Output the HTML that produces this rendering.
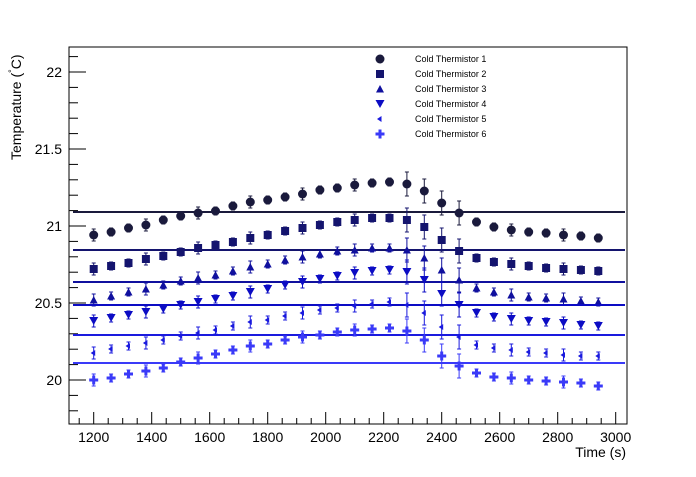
<!DOCTYPE html><html><head><style>body{margin:0;background:#fff}svg{font-family:"Liberation Sans",sans-serif}</style></head><body>
<svg id="s" width="696" height="472" xmlns="http://www.w3.org/2000/svg"></svg>
<script>
const s=document.getElementById('s');let h='';
h+='<rect x="69" y="47" width="558" height="377" fill="none" stroke="#000" stroke-width="1"/>';
const X=v=>93.7+(v-1200)*0.29, Y=v=>380-(v-20)*154;
for(let v=1150;v<=3000;v+=50){const x=X(v),L=(v%200==0)?12:6;h+=`<line x1="${x}" y1="424" x2="${x}" y2="${424-L}" stroke="#000"/>`;if(v%200==0)h+=`<text x="${x}" y="442" font-size="14" text-anchor="middle">${v}</text>`;}
for(let i=0;i<=24;i++){const v=19.8+i*0.1;const y=Y(v);if(y<47||y>424)continue;const maj=Math.abs(v*2-Math.round(v*2))<1e-6;h+=`<line x1="69" y1="${y}" x2="${69+(maj?17:9)}" y2="${y}" stroke="#000"/>`;if(maj){h+=`<text x="62" y="${y+5}" font-size="14" text-anchor="end">${+v.toFixed(1)}</text>`;}}
h+='<text x="626" y="457" font-size="14" text-anchor="end">Time (s)</text>';
h+='<text transform="translate(21,160) rotate(-90)" font-size="14">Temperature (<tspan dy="-6" font-size="9">°</tspan><tspan dy="6">C)</tspan></text>';
const cols=['#1a1a3c','#14146e','#10109e','#0c0cc4','#1a1ade','#3a3af8'];
const lines=[212,250,282,305,335,363];
const D=[[235,232,228,225,220,216,213,211,206,202,200,197,194,190,188,185,183,182,184,191,203,213,222,227,230,232,233,235,236,238],
[269,266,263,259,256,252,248,245,242,238,235,231,228,225,222,220,218,218,220,227,240,251,258,262,264,266,268,269,270,271],
[300,296,292,289,285,281,278,275,271,267,264,260,257,254,251,250,248,248,250,258,270,280,288,292,295,297,298,299,301,302],
[321,318,315,312,309,305,302,299,296,292,289,285,282,279,276,273,271,270,272,280,294,305,313,317,319,321,322,323,325,326],
[353,349,346,343,340,336,333,330,326,322,320,316,313,310,308,306,304,302,305,313,327,337,345,348,350,352,353,355,356,356],
[380,378,374,371,368,362,358,354,350,346,344,340,337,335,332,330,329,328,331,340,356,366,373,377,378,380,381,382,383,386]];
function mk(k,x,y,c){switch(k){case 0:return `<circle cx="${x}" cy="${y}" r="4.5" fill="${c}"/>`;case 1:return `<rect x="${x-4}" y="${y-4}" width="8" height="8" fill="${c}"/>`;case 2:return `<polygon points="${x-4},${y+3.5} ${x+4},${y+3.5} ${x},${y-4}" fill="${c}"/>`;case 3:return `<polygon points="${x-4.5},${y-4} ${x+4.5},${y-4} ${x},${y+4}" fill="${c}"/>`;case 4:return `<polygon points="${x-3},${y} ${x+1.5},${y-3} ${x+1.5},${y+3}" fill="${c}"/>`;default:return `<path d="M${x-1.5} ${y-4.5}h3v3h3v3h-3v3h-3v-3h-3v-3h3z" fill="${c}"/>`;}}
for(let k=0;k<6;k++){h+=`<line x1="73" y1="${lines[k]}" x2="625" y2="${lines[k]}" stroke="${cols[k]}" stroke-width="2"/>`;
D[k].forEach((y,i)=>{const x=93.7+i*17.4;const e=(i>=18&&i<=21)?12:(i%3==0?6:4);h+=`<path d="M${x} ${y-e}v${2*e}M${x-2} ${y-e}h4M${x-2} ${y+e}h4" stroke="${cols[k]}" stroke-width="1" fill="none"/>`;h+=mk(k,x,y,cols[k]);});
const ly=59+k*15;h+=mk(k,380,ly,cols[k]);h+=`<text x="415" y="${ly+3}" font-size="9">Cold Thermistor ${k+1}</text>`;}
s.innerHTML=h;
</script></body></html>
